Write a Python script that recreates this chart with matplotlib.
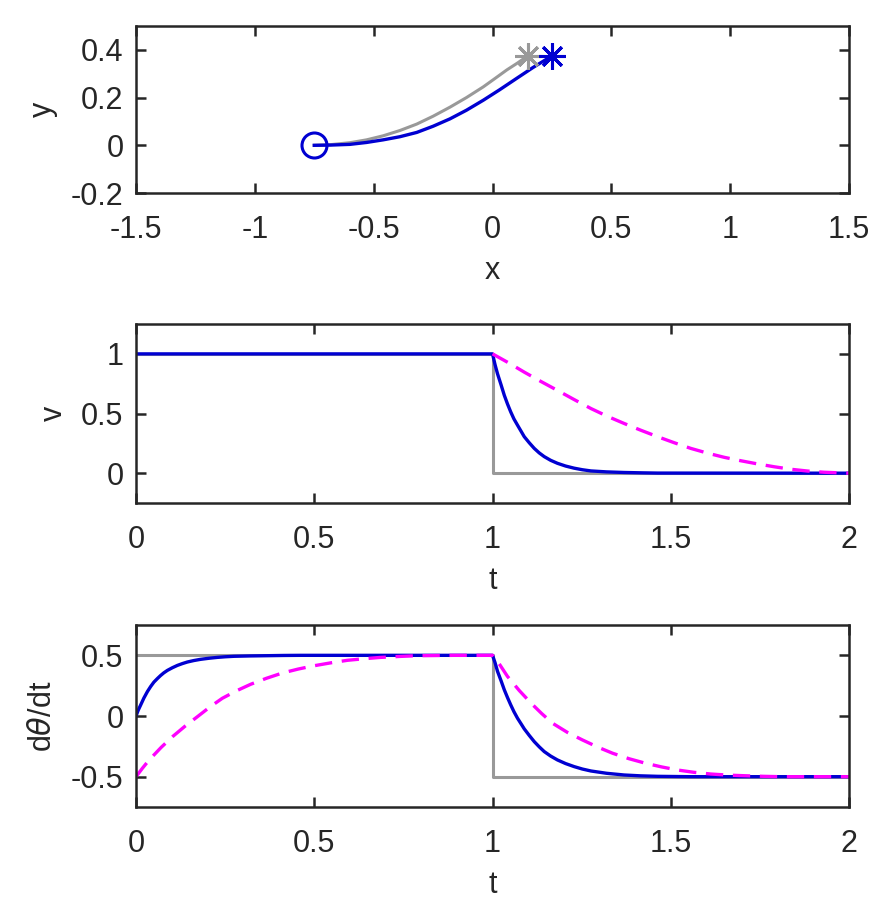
import matplotlib
matplotlib.use('Agg')
import matplotlib.pyplot as plt

# trajectory (x, y)
xy_gray_x = [-0.75, -0.68, -0.60, -0.53, -0.46, -0.39, -0.319, -0.25, -0.179,
             -0.11, -0.039, 0.01, 0.06, 0.105, 0.148]
xy_gray_y = [0.0, 0.003, 0.011, 0.023, 0.040, 0.062, 0.089, 0.122, 0.160,
             0.200, 0.245, 0.280, 0.316, 0.345, 0.375]
xy_blue_x = [-0.75, -0.68, -0.60, -0.53, -0.46, -0.39, -0.319, -0.25, -0.179,
             -0.11, -0.039, 0.03, 0.102, 0.17, 0.250]
xy_blue_y = [0.0, 0.001, 0.004, 0.012, 0.023, 0.036, 0.054, 0.080, 0.111,
             0.147, 0.189, 0.233, 0.281, 0.326, 0.375]
start_pt = (-0.75, 0.0)

# v(t)
v_gray_t = [0, 1, 1, 2]
v_gray = [1, 1, 0, 0]
v_blue_t = [0, 1.0, 1.007, 1.014, 1.024, 1.033, 1.042, 1.051, 1.060, 1.070,
            1.080, 1.089, 1.103, 1.117, 1.131, 1.145, 1.163, 1.182, 1.205,
            1.229, 1.252, 1.276, 1.32, 1.369, 1.42, 1.463, 2.0]
v_blue = [1, 1, 0.91, 0.833, 0.74, 0.653, 0.58, 0.514, 0.455, 0.403,
          0.352, 0.306, 0.255, 0.208, 0.170, 0.139, 0.108, 0.083, 0.060,
          0.042, 0.029, 0.019, 0.011, 0.006, 0.003, 0.001, 0.0]
v_mag_t = [1.0, 1.045, 1.089, 1.135, 1.182, 1.229, 1.276, 1.322, 1.369, 1.416,
           1.463, 1.51, 1.556, 1.603, 1.650, 1.697, 1.743, 1.79, 1.837,
           1.884, 1.930, 2.0]
v_mag = [1.0, 0.925, 0.847, 0.770, 0.694, 0.617, 0.542, 0.477, 0.417, 0.360,
         0.306, 0.255, 0.208, 0.168, 0.133, 0.104, 0.078, 0.054, 0.033,
         0.018, 0.008, 0.0]

# dtheta/dt(t)
w_gray_t = [0, 1, 1, 2]
w_gray = [0.5, 0.5, -0.5, -0.5]
w_blue_t = [0, 0.006, 0.013, 0.022, 0.032, 0.041, 0.050, 0.060, 0.069, 0.078,
            0.088, 0.102, 0.116, 0.130, 0.144, 0.162, 0.181, 0.205, 0.228,
            0.25, 0.275, 0.32, 0.368, 0.415, 0.462, 1.0,
            1.007, 1.014, 1.024, 1.033, 1.042, 1.051, 1.060, 1.070, 1.080,
            1.089, 1.103, 1.117, 1.131, 1.145, 1.163, 1.182, 1.205, 1.229,
            1.252, 1.276, 1.32, 1.369, 1.415, 1.463, 1.556, 2.0]
w_blue = [0.0, 0.047, 0.091, 0.148, 0.202, 0.243, 0.279, 0.309, 0.334, 0.356,
          0.376, 0.398, 0.417, 0.432, 0.445, 0.457, 0.467, 0.476, 0.483,
          0.488, 0.492, 0.495, 0.497, 0.499, 0.5, 0.5,
          0.44, 0.368, 0.29, 0.216, 0.152, 0.092, 0.036, -0.018, -0.064,
          -0.106, -0.160, -0.211, -0.254, -0.293, -0.330, -0.362, -0.392, -0.417,
          -0.437, -0.453, -0.472, -0.486, -0.493, -0.497, -0.5, -0.5]
w_mag_t = [0, 0.018, 0.036, 0.07, 0.102, 0.137, 0.172, 0.207, 0.242, 0.282,
           0.322, 0.366, 0.410, 0.455, 0.499, 0.546, 0.593, 0.64, 0.686, 0.74,
           0.789, 0.892, 1.0,
           1.021, 1.042, 1.075, 1.108, 1.138, 1.168, 1.21, 1.252, 1.295, 1.337,
           1.383, 1.430, 1.475, 1.519, 1.565, 1.612, 1.66, 1.706, 1.76, 1.809,
           2.0]
w_mag = [-0.5, -0.43, -0.365, -0.26, -0.171, -0.085, -0.006, 0.074, 0.146, 0.208,
         0.262, 0.311, 0.354, 0.387, 0.414, 0.438, 0.459, 0.472, 0.483, 0.491,
         0.497, 0.5, 0.5,
         0.42, 0.326, 0.21, 0.106, 0.02, -0.059, -0.135, -0.197, -0.256, -0.307,
         -0.352, -0.390, -0.420, -0.445, -0.464, -0.478, -0.487, -0.492, -0.497,
         -0.5, -0.5]

plt.rcParams['font.family'] = ['Liberation Sans', 'DejaVu Sans']
plt.rcParams['font.size'] = 22
plt.rcParams['lines.solid_joinstyle'] = 'round'

gray = (0.6, 0.6, 0.6)
blue = (0.0, 0.0, 0.82)
mag = (1.0, 0.0, 1.0)
axc = (0.15, 0.15, 0.15)
dash = (0, (5.2, 2.9))

fig = plt.figure(figsize=(8.76, 9.24), dpi=100)
ax1 = fig.add_axes([0.1553, 0.7911, 0.8139, 0.1807])
ax2 = fig.add_axes([0.1553, 0.4556, 0.8139, 0.1937])
ax3 = fig.add_axes([0.1553, 0.1266, 0.8139, 0.1970])

# top: trajectory
ax1.plot(xy_gray_x, xy_gray_y, color=gray, lw=2.2)
ax1.plot(xy_blue_x, xy_blue_y, color=blue, lw=2.4)
ax1.plot(*start_pt, 'o', mfc='none', mec=blue, ms=18, mew=2.2)
ax1.plot(xy_gray_x[-1], xy_gray_y[-1], marker=(8, 2, 0), color=gray, ms=19, mew=2.2)
ax1.plot(xy_blue_x[-1], xy_blue_y[-1], marker=(8, 2, 0), color=blue, ms=19, mew=2.2)
ax1.set_xlim(-1.5, 1.5)
ax1.set_ylim(-0.2, 0.5)
ax1.set_xticks([-1.5, -1, -0.5, 0, 0.5, 1, 1.5])
ax1.set_xticklabels(['-1.5', '-1', '-0.5', '0', '0.5', '1', '1.5'])
ax1.set_yticks([-0.2, 0, 0.2, 0.4])
ax1.set_yticklabels(['-0.2', '0', '0.2', '0.4'])
ax1.set_xlabel('x')
ax1.set_ylabel('y')

# middle: v
ax2.plot(v_gray_t, v_gray, color=gray, lw=2.2)
ax2.plot(v_blue_t, v_blue, color=blue, lw=2.4)
ax2.plot(v_mag_t, v_mag, color=mag, lw=2.4, linestyle=dash)
ax2.set_xlim(0, 2)
ax2.set_ylim(-0.25, 1.25)
ax2.set_xticks([0, 0.5, 1, 1.5, 2])
ax2.set_xticklabels(['0', '0.5', '1', '1.5', '2'])
ax2.set_yticks([0, 0.5, 1])
ax2.set_yticklabels(['0', '0.5', '1'])
ax2.set_xlabel('t')
ax2.set_ylabel('v')

# bottom: dtheta/dt
ax3.plot(w_gray_t, w_gray, color=gray, lw=2.2)
ax3.plot(w_blue_t, w_blue, color=blue, lw=2.4)
ax3.plot(w_mag_t, w_mag, color=mag, lw=2.4, linestyle=dash)
ax3.set_xlim(0, 2)
ax3.set_ylim(-0.75, 0.75)
ax3.set_xticks([0, 0.5, 1, 1.5, 2])
ax3.set_xticklabels(['0', '0.5', '1', '1.5', '2'])
ax3.set_yticks([-0.5, 0, 0.5])
ax3.set_yticklabels(['-0.5', '0', '0.5'])
ax3.set_xlabel('t')
ax3.set_ylabel(r'd$\theta$/dt')

for ax in (ax1, ax2, ax3):
    for s in ax.spines.values():
        s.set_color(axc)
        s.set_linewidth(1.8)
    ax.tick_params(direction='in', length=7, width=1.8, color=axc,
                   labelcolor=axc, top=True, right=True)
    ax.tick_params(axis='x', pad=16)
    ax.tick_params(axis='y', pad=9)
    ax.xaxis.label.set_color(axc)
    ax.yaxis.label.set_color(axc)
    ax.xaxis.labelpad = 8
    ax.yaxis.labelpad = 9

fig.savefig('out.png', dpi=100)
